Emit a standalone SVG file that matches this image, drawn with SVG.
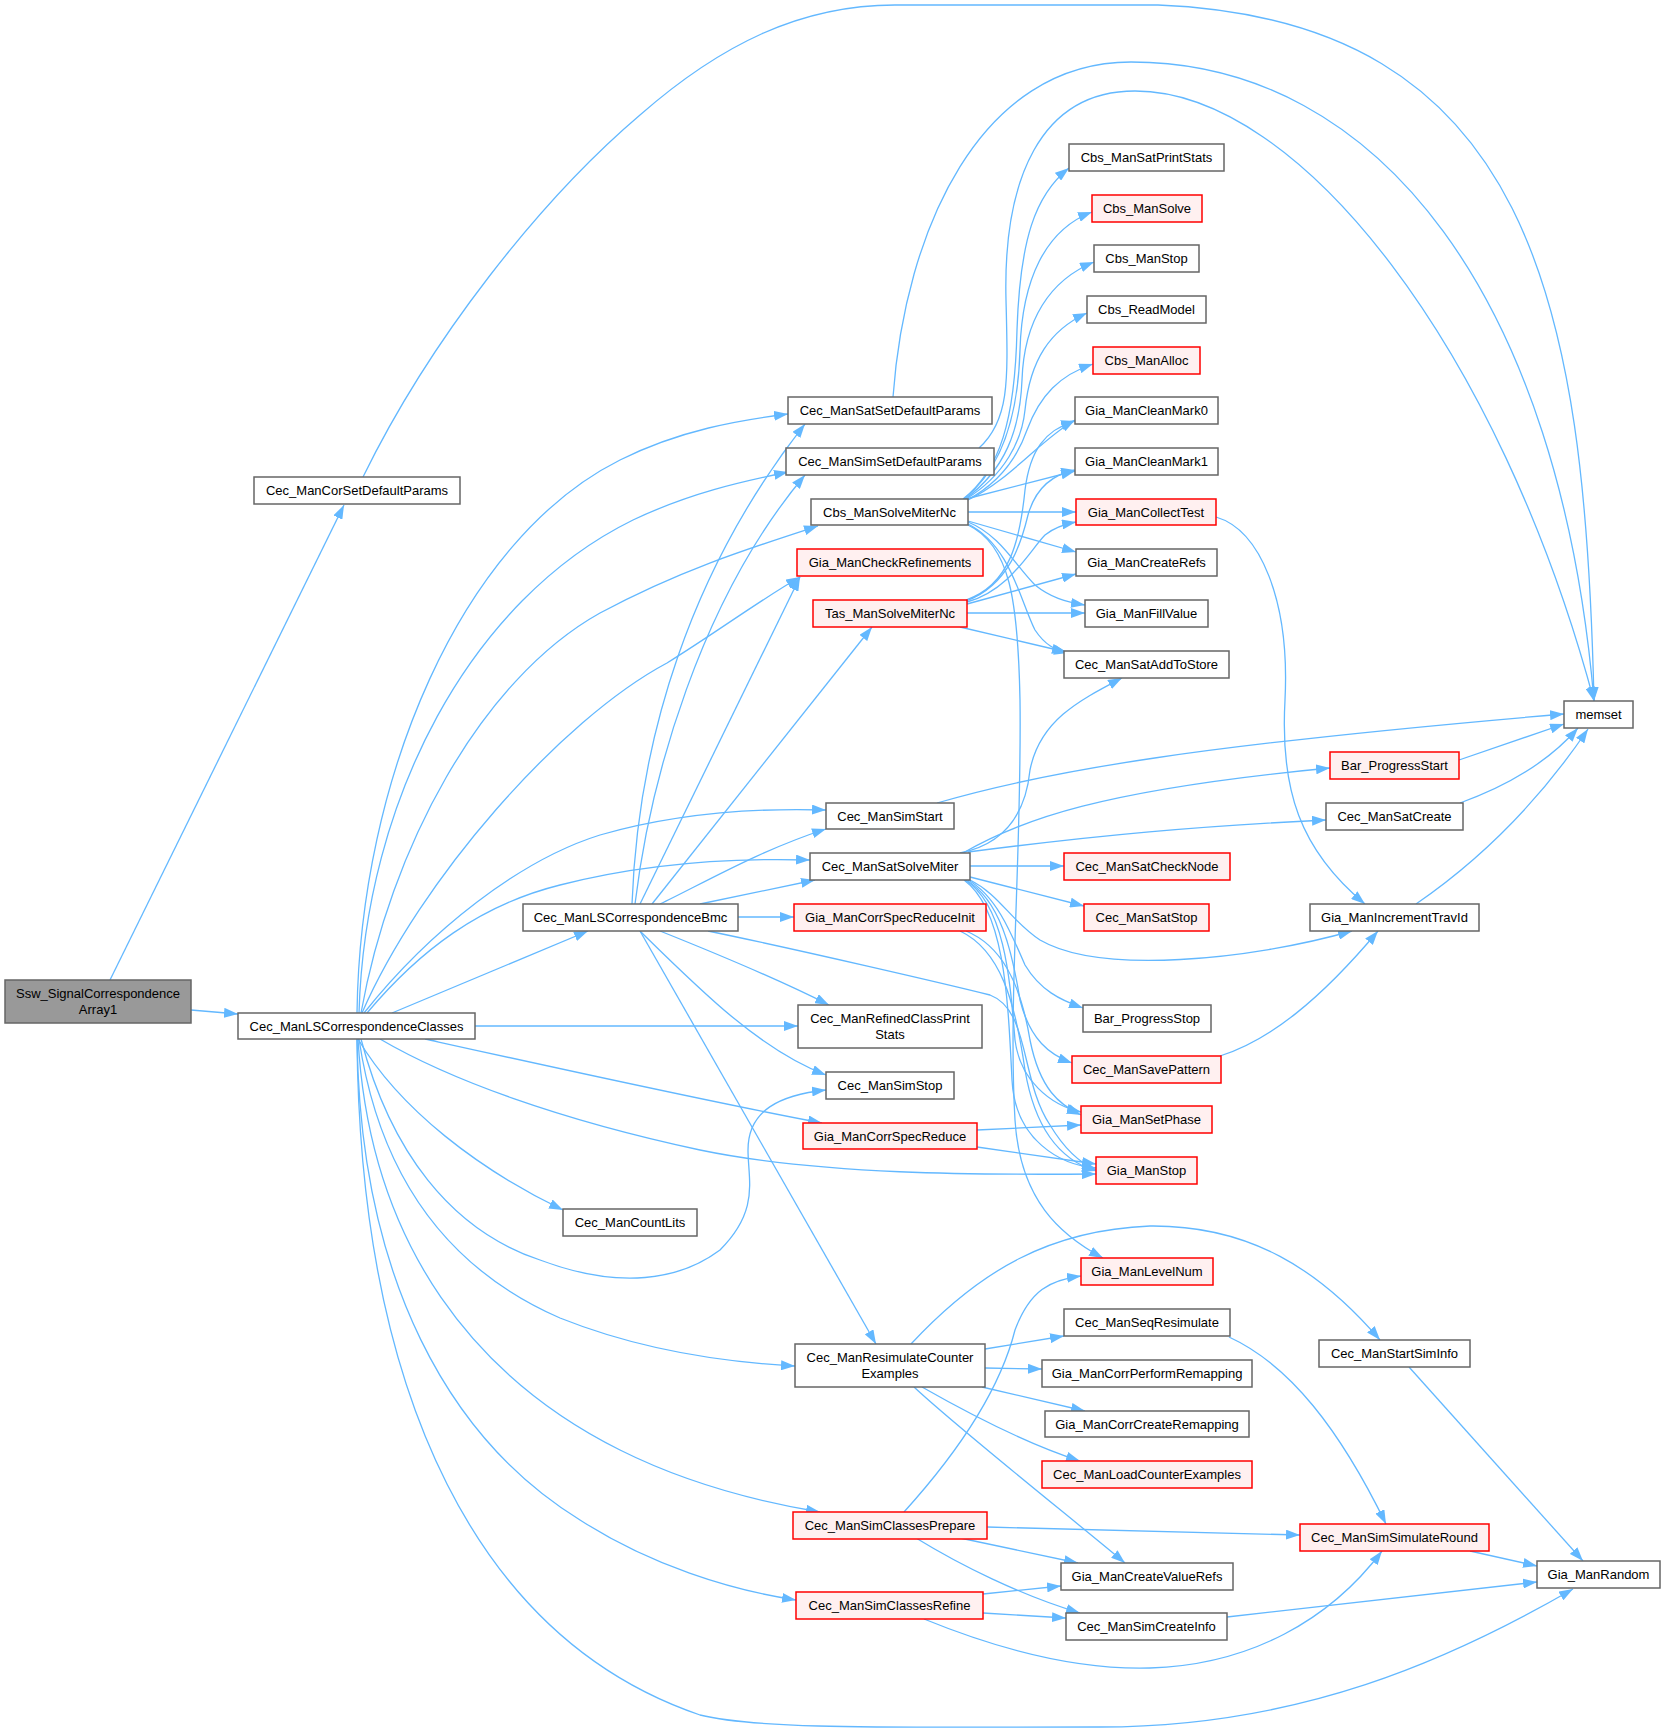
<svg xmlns="http://www.w3.org/2000/svg" width="1665" height="1733" viewBox="0 0 1665 1733">
<defs>
<marker id="ah" markerUnits="userSpaceOnUse" markerWidth="14" markerHeight="10" refX="14" refY="5" orient="auto">
<path d="M0,0 L14,5 L0,10 z" fill="#63b8ff"/>
</marker>
<style>
.n rect{fill:#ffffff;stroke:#666666;stroke-width:1.5}
.r rect{fill:#fff0f0;stroke:#ff0000;stroke-width:1.5}
.root rect{fill:#999999;stroke:#666666;stroke-width:1.5}
text{font-family:"Liberation Sans",Arial,sans-serif;font-size:13px;fill:#000000;text-anchor:middle}
#edges path{fill:none;stroke:#63b8ff;stroke-width:1.3;marker-end:url(#ah)}
</style>
</defs>
<rect x="0" y="0" width="1665" height="1733" fill="#ffffff"/>
<g id="edges">
<path d="M110,980 L344,505"/>
<path d="M191,1010 L238,1014"/>
<path d="M363,477 C430,340 540,200 640,115 C720,45 800,5 895,5 L1158,5 C1530,20 1585,300 1594,701"/>
<path d="M893,397 C905,230 980,62 1131,62 C1380,62 1560,300 1594,701"/>
<path d="M979,448 C1010,420 1008,380 1006,300 C1003,180 1040,91 1135,91 C1300,91 1500,350 1594,701"/>
<path d="M357,1013 C360,780 460,540 620,460 C680,430 740,420 788,414"/>
<path d="M359,1013 C365,800 470,600 633,520 C690,493 740,482 788,472"/>
<path d="M361,1013 C390,850 480,680 600,613 C680,570 750,548 818,526"/>
<path d="M362,1013 C420,880 560,720 667,663 C720,630 760,600 800,577"/>
<path d="M364,1013 C430,930 520,860 600,835 C680,812 760,808 826,810"/>
<path d="M367,1013 C420,950 480,905 560,885 C650,862 740,858 810,860"/>
<path d="M392,1013 L588,931"/>
<path d="M475,1026 L798,1026"/>
<path d="M425,1039 C520,1060 700,1100 822,1123"/>
<path d="M380,1039 C450,1080 560,1120 700,1150 C820,1175 980,1175 1096,1174"/>
<path d="M358,1039 C400,1110 480,1170 563,1210"/>
<path d="M361,1039 C390,1150 450,1230 540,1260 C620,1290 680,1280 720,1250 C760,1210 748,1180 748,1150 C748,1110 780,1095 826,1090"/>
<path d="M359,1039 C380,1180 450,1270 560,1318 C640,1350 720,1362 795,1366"/>
<path d="M358,1039 C370,1250 480,1380 620,1450 C690,1485 760,1502 820,1512"/>
<path d="M357,1039 C360,1280 450,1440 580,1520 C650,1565 730,1590 796,1600"/>
<path d="M357,1039 C360,1400 480,1640 700,1715 C760,1730 900,1727 1100,1727 C1300,1727 1450,1660 1573,1589"/>
<path d="M632,904 C638,740 690,570 805,424"/>
<path d="M635,904 C650,780 700,600 805,475"/>
<path d="M640,904 L800,577"/>
<path d="M652,904 L872,627"/>
<path d="M660,904 C700,885 760,850 826,829"/>
<path d="M700,904 L815,880"/>
<path d="M738,917 L794,917"/>
<path d="M660,931 C720,955 780,980 829,1005"/>
<path d="M640,931 C700,990 760,1050 826,1075"/>
<path d="M640,931 L876,1344"/>
<path d="M708,931 C800,950 950,985 990,995 C1030,1010 1020,1080 1050,1125 C1065,1150 1080,1163 1096,1170"/>
<path d="M963,499 C1000,470 1015,420 1017,330 C1020,240 1035,195 1069,168"/>
<path d="M964,499 C1000,470 1018,420 1020,350 C1022,280 1045,230 1092,212"/>
<path d="M965,499 C1005,470 1020,430 1022,380 C1024,320 1050,280 1094,262"/>
<path d="M966,499 C1005,475 1022,440 1025,410 C1030,360 1050,330 1087,313"/>
<path d="M967,500 C1005,480 1020,450 1027,430 C1040,395 1060,375 1093,364"/>
<path d="M968,500 C1010,480 1040,440 1075,420"/>
<path d="M966,499 L1075,471"/>
<path d="M968,512 L1076,512"/>
<path d="M968,521 L1076,552"/>
<path d="M968,522 C1000,535 1015,565 1035,585 C1050,597 1065,602 1085,605"/>
<path d="M968,524 C1010,545 1020,600 1035,630 C1045,645 1055,650 1068,653"/>
<path d="M968,525 C1010,545 1018,600 1020,700 C1022,850 1008,1000 1015,1120 C1020,1200 1060,1235 1103,1258"/>
<path d="M966,600 C1010,585 1020,540 1025,490 C1030,450 1045,430 1075,421"/>
<path d="M966,601 C1010,585 1022,540 1028,515 C1035,490 1050,475 1075,470"/>
<path d="M967,602 C1010,590 1030,550 1045,535 C1055,527 1065,524 1076,522"/>
<path d="M967,604 L1076,574"/>
<path d="M967,613 L1085,613"/>
<path d="M960,627 L1066,652"/>
<path d="M937,803 C1050,770 1200,745 1564,714"/>
<path d="M960,853 C1000,845 1025,820 1030,770 C1040,720 1080,700 1122,678"/>
<path d="M963,853 C1020,820 1100,790 1330,768"/>
<path d="M968,852 C1100,835 1200,826 1326,820"/>
<path d="M970,866 L1064,866"/>
<path d="M970,877 L1084,906"/>
<path d="M970,880 C1000,895 1010,920 1040,940 C1100,975 1250,960 1352,931"/>
<path d="M968,880 C995,895 1010,930 1025,965 C1040,990 1060,1000 1083,1008"/>
<path d="M966,880 C1000,900 1012,950 1020,1000 C1030,1040 1050,1055 1072,1063"/>
<path d="M965,880 C1005,905 1010,980 1015,1040 C1020,1080 1050,1105 1081,1112"/>
<path d="M964,880 C1005,910 1008,1000 1012,1080 C1015,1140 1060,1165 1096,1168"/>
<path d="M966,931 C1000,945 1020,980 1030,1040 C1040,1090 1060,1105 1081,1115"/>
<path d="M960,931 C1000,950 1015,1000 1025,1070 C1035,1130 1060,1160 1096,1171"/>
<path d="M977,1130 L1081,1125"/>
<path d="M977,1147 L1096,1164"/>
<path d="M1216,517 C1260,530 1290,600 1285,700 C1280,790 1300,850 1365,904"/>
<path d="M1459,760 L1564,724"/>
<path d="M1460,803 C1510,785 1550,760 1578,728"/>
<path d="M1416,904 C1480,860 1540,800 1588,729"/>
<path d="M1220,1056 C1270,1040 1320,1000 1378,931"/>
<path d="M911,1344 C980,1270 1050,1230 1150,1226 C1250,1225 1320,1270 1380,1340"/>
<path d="M985,1349 L1064,1336"/>
<path d="M985,1368 L1042,1369"/>
<path d="M982,1387 L1085,1411"/>
<path d="M922,1387 C980,1420 1030,1445 1080,1461"/>
<path d="M914,1387 C960,1430 1080,1525 1125,1563"/>
<path d="M904,1512 C960,1450 1000,1390 1015,1330 C1030,1290 1050,1280 1081,1276"/>
<path d="M987,1527 L1300,1535"/>
<path d="M960,1538 L1078,1563"/>
<path d="M916,1538 C960,1565 1020,1595 1080,1613"/>
<path d="M983,1594 L1061,1586"/>
<path d="M983,1613 L1066,1618"/>
<path d="M924,1619 C1000,1650 1080,1670 1150,1668 C1250,1665 1330,1620 1382,1551"/>
<path d="M1229,1337 C1290,1365 1340,1430 1386,1524"/>
<path d="M1409,1367 L1583,1561"/>
<path d="M1470,1551 L1537,1566"/>
<path d="M1227,1617 L1537,1582"/>
</g>
<g id="ssw" class="root"><rect x="5" y="980" width="186" height="43"/><text x="98" y="997.5">Ssw_SignalCorrespondence</text><text x="98" y="1014">Array1</text></g>
<g id="corset" class="n"><rect x="254" y="477" width="206" height="27"/><text x="357" y="495">Cec_ManCorSetDefaultParams</text></g>
<g id="lsc" class="n"><rect x="238" y="1013" width="237" height="26"/><text x="356.5" y="1030.5">Cec_ManLSCorrespondenceClasses</text></g>
<g id="satset" class="n"><rect x="788" y="397" width="204" height="27"/><text x="890" y="415">Cec_ManSatSetDefaultParams</text></g>
<g id="simset" class="n"><rect x="786" y="448" width="208" height="27"/><text x="890" y="466">Cec_ManSimSetDefaultParams</text></g>
<g id="cbsnc" class="n"><rect x="811" y="499" width="157" height="26"/><text x="889.5" y="516.5">Cbs_ManSolveMiterNc</text></g>
<g id="checkref" class="r"><rect x="797" y="549" width="186" height="27"/><text x="890" y="567">Gia_ManCheckRefinements</text></g>
<g id="tas" class="r"><rect x="813" y="600" width="154" height="27"/><text x="890" y="618">Tas_ManSolveMiterNc</text></g>
<g id="simstart" class="n"><rect x="826" y="803" width="128" height="26"/><text x="890" y="820.5">Cec_ManSimStart</text></g>
<g id="ssm" class="n"><rect x="810" y="853" width="160" height="27"/><text x="890" y="871">Cec_ManSatSolveMiter</text></g>
<g id="bmc" class="n"><rect x="523" y="904" width="215" height="27"/><text x="630.5" y="922">Cec_ManLSCorrespondenceBmc</text></g>
<g id="init" class="r"><rect x="794" y="904" width="192" height="27"/><text x="890" y="922">Gia_ManCorrSpecReduceInit</text></g>
<g id="refstats" class="n"><rect x="798" y="1005" width="184" height="43"/><text x="890" y="1023">Cec_ManRefinedClassPrint</text><text x="890" y="1039">Stats</text></g>
<g id="simstop" class="n"><rect x="826" y="1072" width="128" height="27"/><text x="890" y="1090">Cec_ManSimStop</text></g>
<g id="csr" class="r"><rect x="803" y="1123" width="174" height="26"/><text x="890" y="1140.5">Gia_ManCorrSpecReduce</text></g>
<g id="countlits" class="n"><rect x="563" y="1209" width="134" height="27"/><text x="630" y="1227">Cec_ManCountLits</text></g>
<g id="rce" class="n"><rect x="795" y="1344" width="190" height="43"/><text x="890" y="1362">Cec_ManResimulateCounter</text><text x="890" y="1378">Examples</text></g>
<g id="prep" class="r"><rect x="793" y="1512" width="194" height="27"/><text x="890" y="1530">Cec_ManSimClassesPrepare</text></g>
<g id="refine" class="r"><rect x="796" y="1592" width="187" height="27"/><text x="889.5" y="1610">Cec_ManSimClassesRefine</text></g>
<g id="printstats" class="n"><rect x="1069" y="144" width="155" height="27"/><text x="1146.5" y="162">Cbs_ManSatPrintStats</text></g>
<g id="cbssolve" class="r"><rect x="1092" y="195" width="110" height="27"/><text x="1147" y="213">Cbs_ManSolve</text></g>
<g id="cbsstop" class="n"><rect x="1094" y="245" width="105" height="27"/><text x="1146.5" y="263">Cbs_ManStop</text></g>
<g id="readmodel" class="n"><rect x="1087" y="296" width="119" height="27"/><text x="1146.5" y="314">Cbs_ReadModel</text></g>
<g id="alloc" class="r"><rect x="1093" y="347" width="107" height="27"/><text x="1146.5" y="365">Cbs_ManAlloc</text></g>
<g id="mark0" class="n"><rect x="1075" y="397" width="143" height="27"/><text x="1146.5" y="415">Gia_ManCleanMark0</text></g>
<g id="mark1" class="n"><rect x="1075" y="448" width="143" height="27"/><text x="1146.5" y="466">Gia_ManCleanMark1</text></g>
<g id="collect" class="r"><rect x="1076" y="499" width="140" height="26"/><text x="1146" y="516.5">Gia_ManCollectTest</text></g>
<g id="refs" class="n"><rect x="1076" y="549" width="141" height="27"/><text x="1146.5" y="567">Gia_ManCreateRefs</text></g>
<g id="fill" class="n"><rect x="1085" y="600" width="123" height="27"/><text x="1146.5" y="618">Gia_ManFillValue</text></g>
<g id="addstore" class="n"><rect x="1064" y="651" width="165" height="27"/><text x="1146.5" y="669">Cec_ManSatAddToStore</text></g>
<g id="memset" class="n"><rect x="1564" y="701" width="69" height="27"/><text x="1598.5" y="719">memset</text></g>
<g id="barstart" class="r"><rect x="1330" y="752" width="129" height="27"/><text x="1394.5" y="770">Bar_ProgressStart</text></g>
<g id="satcreate" class="n"><rect x="1326" y="803" width="137" height="27"/><text x="1394.5" y="821">Cec_ManSatCreate</text></g>
<g id="checknode" class="r"><rect x="1064" y="853" width="166" height="27"/><text x="1147" y="871">Cec_ManSatCheckNode</text></g>
<g id="satstop" class="r"><rect x="1084" y="904" width="125" height="27"/><text x="1146.5" y="922">Cec_ManSatStop</text></g>
<g id="travid" class="n"><rect x="1310" y="904" width="169" height="27"/><text x="1394.5" y="922">Gia_ManIncrementTravId</text></g>
<g id="barstop" class="n"><rect x="1083" y="1005" width="128" height="27"/><text x="1147" y="1023">Bar_ProgressStop</text></g>
<g id="savepat" class="r"><rect x="1072" y="1056" width="149" height="27"/><text x="1146.5" y="1074">Cec_ManSavePattern</text></g>
<g id="setphase" class="r"><rect x="1081" y="1106" width="131" height="27"/><text x="1146.5" y="1124">Gia_ManSetPhase</text></g>
<g id="giastop" class="r"><rect x="1096" y="1157" width="101" height="27"/><text x="1146.5" y="1175">Gia_ManStop</text></g>
<g id="levelnum" class="r"><rect x="1081" y="1258" width="132" height="27"/><text x="1147" y="1276">Gia_ManLevelNum</text></g>
<g id="seqres" class="n"><rect x="1064" y="1309" width="166" height="27"/><text x="1147" y="1327">Cec_ManSeqResimulate</text></g>
<g id="perfremap" class="n"><rect x="1042" y="1360" width="210" height="27"/><text x="1147" y="1378">Gia_ManCorrPerformRemapping</text></g>
<g id="createremap" class="n"><rect x="1045" y="1411" width="204" height="26"/><text x="1147" y="1428.5">Gia_ManCorrCreateRemapping</text></g>
<g id="loadcex" class="r"><rect x="1042" y="1461" width="210" height="27"/><text x="1147" y="1479">Cec_ManLoadCounterExamples</text></g>
<g id="startsim" class="n"><rect x="1319" y="1340" width="151" height="27"/><text x="1394.5" y="1358">Cec_ManStartSimInfo</text></g>
<g id="simround" class="r"><rect x="1300" y="1524" width="189" height="27"/><text x="1394.5" y="1542">Cec_ManSimSimulateRound</text></g>
<g id="random" class="n"><rect x="1537" y="1561" width="123" height="27"/><text x="1598.5" y="1579">Gia_ManRandom</text></g>
<g id="valrefs" class="n"><rect x="1061" y="1563" width="172" height="27"/><text x="1147" y="1581">Gia_ManCreateValueRefs</text></g>
<g id="createinfo" class="n"><rect x="1066" y="1613" width="161" height="27"/><text x="1146.5" y="1631">Cec_ManSimCreateInfo</text></g>
</svg>
